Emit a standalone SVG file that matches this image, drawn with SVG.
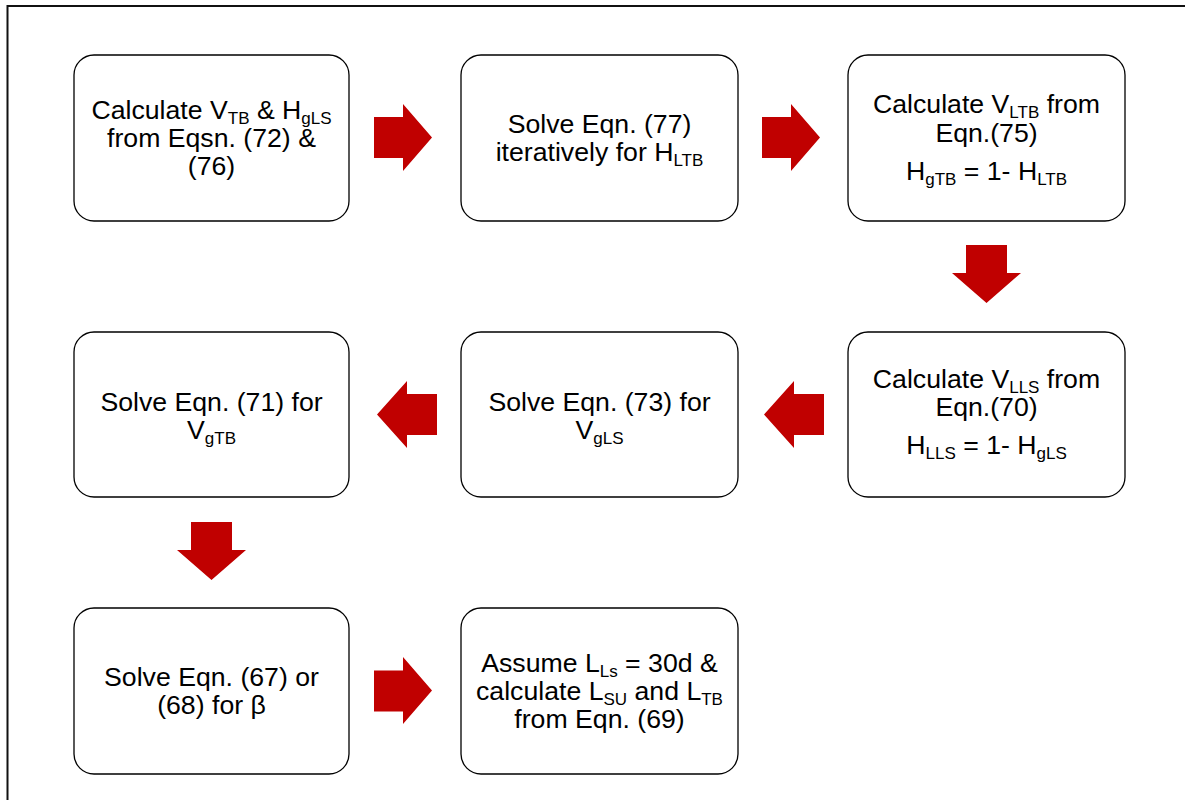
<svg xmlns="http://www.w3.org/2000/svg" width="1185" height="800" viewBox="0 0 1185 800">
<style>
.box{fill:#fff;stroke:#000;stroke-width:1.3}
.t{font-family:"Liberation Sans",Arial,sans-serif;font-size:26.67px;fill:#000;text-anchor:middle}
.s{font-size:17px}
.arr{fill:#C00000;stroke:none}
</style>
<rect x="0" y="0" width="1185" height="800" fill="#fff"/>
<rect x="7.5" y="6" width="1200" height="820" fill="none" stroke="#111" stroke-width="2"/>
<g id="connectors">
<polygon class="arr" points="374,117 403,117 403,104 432,137.5 403,171 403,158 374,158"/>
<polygon class="arr" points="762,117 791,117 791,104 820,137.5 791,171 791,158 762,158"/>
<polygon class="arr" points="966,245 1007,245 1007,273 1021,273 986.5,303 952,273 966,273"/>
<polygon class="arr" points="824,394 794,394 794,381 764,414.5 794,448 794,435 824,435"/>
<polygon class="arr" points="437,394 407,394 407,381 377,414.5 407,448 407,435 437,435"/>
<polygon class="arr" points="191,522 232,522 232,550 246,550 211.5,580 177,550 191,550"/>
<polygon class="arr" points="374,670.5 403,670.5 403,657 432,690.5 403,724 403,711.5 374,711.5"/>
</g>
<g id="n1">
<rect class="box" x="74" y="55" width="275" height="166" rx="20"/>
<text class="t" x="211.5" y="119">Calculate V<tspan class="s" dy="5">TB</tspan><tspan dy="-5"> &amp; H</tspan><tspan class="s" dy="5">gLS</tspan></text>
<text class="t" x="211.5" y="147">from Eqsn. (72) &amp;</text>
<text class="t" x="211.5" y="175">(76)</text>
</g>
<g id="n2">
<rect class="box" x="461" y="55" width="277" height="166" rx="20"/>
<text class="t" x="599.5" y="132.5">Solve Eqn. (77)</text>
<text class="t" x="599.5" y="161">iteratively for H<tspan class="s" dy="5">LTB</tspan></text>
</g>
<g id="n3">
<rect class="box" x="848" y="55" width="277" height="166" rx="20"/>
<text class="t" x="986.5" y="112.7">Calculate V<tspan class="s" dy="5">LTB</tspan><tspan dy="-5"> from</tspan></text>
<text class="t" x="986.5" y="141.7">Eqn.(75)</text>
<text class="t" x="986.5" y="180">H<tspan class="s" dy="5">gTB</tspan><tspan dy="-5"> = 1- H</tspan><tspan class="s" dy="5">LTB</tspan></text>
</g>
<g id="n4">
<rect class="box" x="848" y="332" width="277" height="165" rx="20"/>
<text class="t" x="986.5" y="388">Calculate V<tspan class="s" dy="5">LLS</tspan><tspan dy="-5"> from</tspan></text>
<text class="t" x="986.5" y="416">Eqn.(70)</text>
<text class="t" x="986.5" y="454">H<tspan class="s" dy="5">LLS</tspan><tspan dy="-5"> = 1- H</tspan><tspan class="s" dy="5">gLS</tspan></text>
</g>
<g id="n5">
<rect class="box" x="461" y="332" width="277" height="165" rx="20"/>
<text class="t" x="599.5" y="410.7">Solve Eqn. (73) for</text>
<text class="t" x="599.5" y="438.5">V<tspan class="s" dy="5">gLS</tspan></text>
</g>
<g id="n6">
<rect class="box" x="74" y="332" width="275" height="165" rx="20"/>
<text class="t" x="211.5" y="410.7">Solve Eqn. (71) for</text>
<text class="t" x="211.5" y="438.5">V<tspan class="s" dy="5">gTB</tspan></text>
</g>
<g id="n7">
<rect class="box" x="74" y="608" width="275" height="166" rx="20"/>
<text class="t" x="211.5" y="685.7">Solve Eqn. (67) or</text>
<text class="t" x="211.5" y="714">(68) for β</text>
</g>
<g id="n8">
<rect class="box" x="461" y="608" width="277" height="166" rx="20"/>
<text class="t" x="599.5" y="672.3">Assume L<tspan class="s" dy="5">Ls</tspan><tspan dy="-5"> = 30d &amp;</tspan></text>
<text class="t" x="599.5" y="700">calculate L<tspan class="s" dy="5">SU</tspan><tspan dy="-5"> and L</tspan><tspan class="s" dy="5">TB</tspan></text>
<text class="t" x="599.5" y="728.3">from Eqn. (69)</text>
</g>
</svg>
